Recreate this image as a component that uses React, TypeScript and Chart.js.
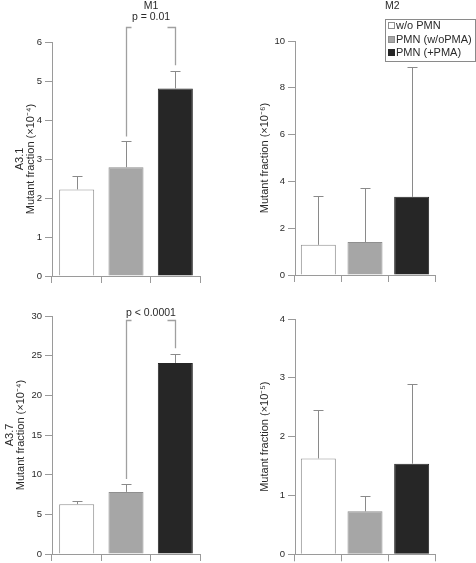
import React, { useEffect, useRef } from "react";
import { Chart, registerables } from "chart.js";

Chart.register(...registerables);

// ---------- data ----------
const CONDITIONS = ["w/o PMN", "PMN (w/oPMA)", "PMN (+PMA)"];

// A3.1 / M1  (x10^-4)
const A31_M1_MEAN = [2.22, 2.79, 4.81];
const A31_M1_UPPER = [2.56, 3.45, 5.25];
// A3.1 / M2  (x10^-6)
const A31_M2_MEAN = [1.29, 1.41, 3.34];
const A31_M2_UPPER = [3.38, 3.73, 8.89];
// A3.7 / M1  (x10^-4)
const A37_M1_MEAN = [6.28, 7.83, 24.08];
const A37_M1_UPPER = [6.66, 8.83, 25.18];
// A3.7 / M2  (x10^-5)
const A37_M2_MEAN = [1.63, 0.73, 1.54];
const A37_M2_UPPER = [2.45, 0.99, 2.89];

const P_LABEL_TOP = "p = 0.01";
const P_LABEL_BOTTOM = "p < 0.0001";
const BRACKET_LEVEL_TOP = 6.38;
const BRACKET_LEVEL_BOTTOM = 29.55;

// ---------- styles ----------
const FONT = "'Liberation Sans', Arial, Helvetica, sans-serif";
const AXIS = "#9a9a9a";
const TEXT = "#2a2a2a";
const BAR_FILL = ["#ffffff", "#a6a6a6", "#262626"];
const BAR_BORDER = ["#8f8f8f", "#8f8f8f", "#262626"];

const errorBarPlugin = {
  id: "errorBars",
  afterDatasetsDraw(chart: any) {
    const ds: any = chart.data.datasets[0];
    const meta = chart.getDatasetMeta(0);
    const y = chart.scales.y;
    const ctx = chart.ctx;
    ctx.save();
    ctx.strokeStyle = "#8a8a8a";
    ctx.lineWidth = 1;
    meta.data.forEach((bar: any, i: number) => {
      const x = Math.round(bar.x) + 0.5;
      const yTop = Math.round(y.getPixelForValue(ds.uppers[i])) + 0.5;
      const yBar = bar.y;
      ctx.beginPath();
      ctx.moveTo(x, yBar);
      ctx.lineTo(x, yTop);
      ctx.moveTo(x - 5, yTop);
      ctx.lineTo(x + 5, yTop);
      ctx.stroke();
    });
    ctx.restore();
  },
};

const annotationPlugin = {
  id: "panelAnnotations",
  afterDraw(chart: any) {
    const opts = chart.options.plugins.panelAnnotations || {};
    const ctx = chart.ctx;
    const ds: any = chart.data.datasets[0];
    const meta = chart.getDatasetMeta(0);
    const y = chart.scales.y;
    ctx.save();
    if (opts.bracket) {
      const b = opts.bracket;
      const x1 = Math.round(meta.data[b.from].x) + 0.5;
      const x2 = Math.round(meta.data[b.to].x) + 0.5;
      const yl = Math.round(y.getPixelForValue(b.level)) + 0.5;
      const y1 = y.getPixelForValue(ds.uppers[b.from]) - 5;
      const y2 = y.getPixelForValue(ds.uppers[b.to]) - 6;
      ctx.strokeStyle = "#a0a0a0";
      ctx.lineWidth = 1.3;
      ctx.beginPath();
      ctx.moveTo(x1 + 5, yl);
      ctx.lineTo(x1, yl);
      ctx.lineTo(x1, y1);
      ctx.moveTo(x2 - 8, yl);
      ctx.lineTo(x2, yl);
      ctx.lineTo(x2, y2);
      ctx.stroke();
      ctx.fillStyle = TEXT;
      ctx.font = `10.5px ${FONT}`;
      ctx.textAlign = "center";
      ctx.textBaseline = "alphabetic";
      const cx = (x1 + x2) / 2;
      ctx.fillText(b.label, cx, yl - b.labelGap);
      if (b.title) {
        ctx.fillText(b.title, cx, yl - b.labelGap - 11);
      }
    }
    if (opts.legend) {
      const L = opts.legend;
      ctx.fillStyle = TEXT;
      ctx.font = `10.5px ${FONT}`;
      ctx.textAlign = "left";
      ctx.textBaseline = "alphabetic";
      ctx.fillText(L.title, L.x, L.titleBaseline);
      ctx.strokeStyle = "#8a8a8a";
      ctx.lineWidth = 1;
      ctx.strokeRect(L.x + 0.5, L.y + 0.5, L.w, L.h);
      ctx.font = `11px ${FONT}`;
      ctx.textBaseline = "middle";
      chart.data.labels.forEach((lab: string, i: number) => {
        const cy = L.y + 6.5 + i * 13.5;
        ctx.fillStyle = BAR_FILL[i];
        ctx.fillRect(L.x + 3, Math.round(cy - 3.5), 7, 7);
        ctx.strokeStyle = BAR_BORDER[i];
        ctx.strokeRect(L.x + 3.5, Math.round(cy - 3.5) + 0.5, 6, 6);
        ctx.fillStyle = TEXT;
        ctx.fillText(lab, L.x + 11, cy + 0.5);
      });
    }
    ctx.restore();
  },
};

type PanelProps = {
  left: number;
  top: number;
  width: number;
  height: number;
  area: { top: number; right: number; bottom: number; yWidth: number };
  means: number[];
  uppers: number[];
  yMax: number;
  yStep: number;
  yTitle: string | string[];
  titlePad: number;
  barPct: number;
  annotations?: any;
};

function Panel(p: PanelProps) {
  const ref = useRef<HTMLCanvasElement | null>(null);
  useEffect(() => {
    if (!ref.current) return;
    const chart = new Chart(ref.current, {
      type: "bar",
      data: {
        labels: CONDITIONS,
        datasets: [
          {
            data: p.means,
            uppers: p.uppers,
            backgroundColor: BAR_FILL,
            borderColor: BAR_BORDER,
            borderWidth: 1,
            barPercentage: p.barPct,
            categoryPercentage: 1,
          } as any,
        ],
      },
      options: {
        animation: false,
        responsive: false,
        devicePixelRatio: 1,
        layout: {
          padding: { top: p.area.top, right: p.width - p.area.right, bottom: 0, left: 0 },
        },
        plugins: {
          legend: { display: false },
          tooltip: { enabled: false },
          title: { display: false },
          panelAnnotations: p.annotations || {},
        } as any,
        scales: {
          x: {
            type: "category",
            offset: true,
            grid: {
              display: true,
              offset: true,
              drawOnChartArea: false,
              drawTicks: true,
              tickLength: 7,
              color: AXIS,
            },
            border: { display: true, color: AXIS },
            ticks: { display: false },
            afterFit: (s: any) => {
              s.height = p.height - p.area.bottom;
            },
          },
          y: {
            min: 0,
            max: p.yMax,
            ticks: {
              stepSize: p.yStep,
              color: TEXT,
              padding: 3,
              font: { family: FONT, size: 9.5 },
            },
            grid: {
              drawOnChartArea: false,
              drawTicks: true,
              tickLength: 7,
              color: AXIS,
            },
            border: { display: true, color: AXIS },
            title: {
              display: true,
              text: p.yTitle,
              color: TEXT,
              font: { family: FONT, size: 11, lineHeight: 1.05 },
              padding: { top: p.titlePad, bottom: 0 },
            },
            afterFit: (s: any) => {
              s.width = p.area.yWidth;
            },
          },
        },
      } as any,
      plugins: [errorBarPlugin, annotationPlugin],
    });
    return () => chart.destroy();
  }, []);
  return (
    <canvas
      ref={ref}
      width={p.width}
      height={p.height}
      style={{ position: "absolute", left: p.left, top: p.top, width: p.width, height: p.height }}
    />
  );
}

export default function App() {
  return (
    <div
      style={{
        position: "absolute",
        left: 0,
        top: 0,
        width: 476,
        height: 563,
        background: "#ffffff",
        overflow: "hidden",
      }}
    >
      <Panel
        left={0}
        top={0}
        width={236}
        height={295}
        area={{ top: 42, right: 200, bottom: 276, yWidth: 52 }}
        means={A31_M1_MEAN}
        uppers={A31_M1_UPPER}
        yMax={6}
        yStep={1}
        yTitle={["A3.1", "Mutant fraction (×10⁻⁴)"]}
        titlePad={14}
        barPct={0.71}
        annotations={{
          bracket: { from: 1, to: 2, level: BRACKET_LEVEL_TOP, label: P_LABEL_TOP, labelGap: 7.5, title: "M1" },
        }}
      />
      <Panel
        left={236}
        top={0}
        width={240}
        height={295}
        area={{ top: 41, right: 199, bottom: 275, yWidth: 59 }}
        means={A31_M2_MEAN}
        uppers={A31_M2_UPPER}
        yMax={10}
        yStep={2}
        yTitle={"Mutant fraction (×10⁻⁶)"}
        titlePad={23}
        barPct={0.75}
        annotations={{
          legend: { title: "M2", x: 149, y: 19, w: 90, h: 42, titleBaseline: 9 },
        }}
      />
      <Panel
        left={0}
        top={290}
        width={236}
        height={273}
        area={{ top: 26, right: 200, bottom: 264, yWidth: 52 }}
        means={A37_M1_MEAN}
        uppers={A37_M1_UPPER}
        yMax={30}
        yStep={5}
        yTitle={["A3.7", "Mutant fraction (×10⁻⁴)"]}
        titlePad={4}
        barPct={0.71}
        annotations={{
          bracket: { from: 1, to: 2, level: BRACKET_LEVEL_BOTTOM, label: P_LABEL_BOTTOM, labelGap: 4.5 },
        }}
      />
      <Panel
        left={236}
        top={290}
        width={240}
        height={273}
        area={{ top: 29, right: 199, bottom: 265, yWidth: 59 }}
        means={A37_M2_MEAN}
        uppers={A37_M2_UPPER}
        yMax={4}
        yStep={1}
        yTitle={"Mutant fraction (×10⁻⁵)"}
        titlePad={23}
        barPct={0.75}
      />
    </div>
  );
}
